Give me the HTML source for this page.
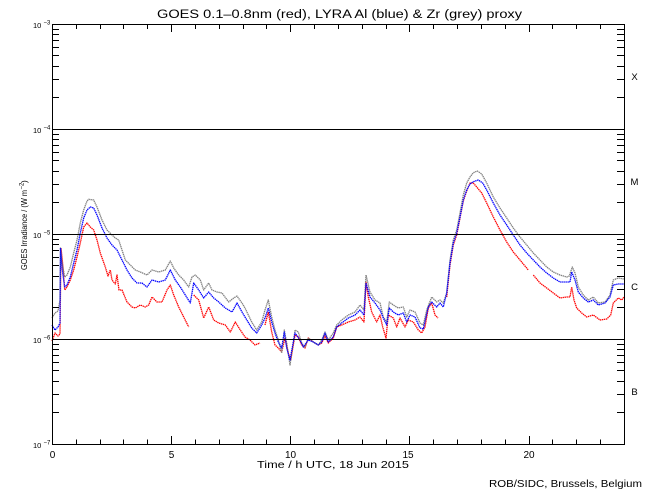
<!DOCTYPE html>
<html><head><meta charset="utf-8"><style>
html,body{margin:0;padding:0;background:#fff;}
svg{display:block;}
text{font-family:"Liberation Sans",sans-serif;fill:#000;}
</style></head><body>
<svg width="650" height="500" viewBox="0 0 650 500" xmlns="http://www.w3.org/2000/svg">
<rect width="650" height="500" fill="#fff"/>

<!-- Title -->
<text x="157" y="18" font-size="11.5" textLength="365" lengthAdjust="spacingAndGlyphs">GOES 0.1–0.8nm (red), LYRA Al (blue) &amp; Zr (grey) proxy</text>

<!-- Data series -->
<g fill="none" stroke-width="1.3" stroke-dasharray="1.4 0.6" stroke-linejoin="round">
<polyline stroke="#ff0000" points="52,341 55,333 58,336 60,334 61,248 62.5,262 64.7,290 67,287 70.3,280 73.7,270 77,257 80.3,243 83.7,227 87,223 90.3,227 93.7,230 97,240 100.3,253 105.3,267 108,276 110.3,270 112,280 115.3,284 117,275 119,290 122,290 127,302 132,307 135.3,308 140.3,305 145.3,307 148.7,305 152,297 157,302 162,302 167,290 170.3,285 173.7,295 178.7,307 183.7,317 188.7,327"/>
<polyline stroke="#ff0000" points="193.7,295 198.7,300 203.7,318 208.7,307 213.7,320 218.7,323 225.3,325 230.3,332 235.3,322 240.3,330 245,337 250,340 255,345 260,343"/>
<polyline stroke="#ff0000" points="265,325 268.3,312 271.7,332 275,345 278.3,348 281.7,352 285,338 288.3,353 290.7,360 295,335 298.3,337 301.7,345 305,348 308.3,338 313.3,342 318.3,345 321.7,343 325,336 328.3,343 333.3,338 336.7,327 341.7,325 348.3,322 355,320 360,317 364,322 366,282 368.3,297 371.7,312 376.7,322 380,315 382.7,327 386,338 388.3,315 393.3,318 396.7,327 400,318 405,327 408.3,320 413.3,322 418.3,330 421.7,333 425,327 428.3,308 431.7,303 435,315 438,318"/>
<polyline stroke="#ff0000" points="446.7,297 450,265 453.3,245 456.7,235 460,218 463.3,201 466.7,191 470,183 473.3,183 476.7,187 481.7,193 486.7,203 493.3,217 500,230 506.7,242 513.3,252 520,260 528.3,270"/>
<polyline stroke="#ff0000" points="533.3,275 540,283 546.7,288 553.3,293 560,298 566.7,297 570,297 571.7,287 574,300 576.7,308 581.7,313 586.7,317 593.3,315 600,320 606.7,319 610.7,315 613.3,303 618.3,298 621.7,300 624,297"/>

<polyline stroke="#808080" points="52,318 55,313 58,311 60,300 60.5,248 62,262 64.7,277 67,275 70.3,267 73.7,253 77,240 80.3,223 83.7,210 87,201 88.7,199.3 93.7,200 97,207 102,220 107,230 112,235 115.3,238 118.7,240 122,250 125.3,260 130.3,265 135.3,270 140.3,272 147,275 152,270 158.7,272 165.3,270 170.3,261 173.7,268 178.7,275 183.7,280 188.7,287 192,277 195.3,275 200.3,280 203.7,290 208.7,283 212,290 217,292 222,293 228.7,302 233.7,298 237,296 242,303 245,308 251.7,322 256.7,330 261.7,322 265,310 268.3,300 271.7,317 275,330 278.3,340 281.7,353 284.3,330 286.7,343 290,365 293.3,343 295,330 298.3,332 301.7,343 305,347 308.3,338 313.3,342 318.3,345 321.7,340 325,332 328.3,340 333.3,333 336.7,325 341.7,320 348.3,315 355,312 360,305 364,310 366,275 370,292 375,300 380,303 383.3,317 386.7,322 389.3,302 393.3,305 398.3,308 403.3,307 406.7,317 410,310 415,312 420,323 423.3,325 426.7,310 431.7,297 436.7,302 440,300 443.3,303 446.7,293 450,260 453.3,240 456.7,230 460,213 463.3,195 466.7,183 470,177 473.3,172.7 477.3,171 481.7,174 486.7,183 493.3,197 500,208 506.7,218 513.3,228 520,237 526.7,245 533.3,253 540,260 546.7,267 553.3,272 560,275 566.7,277 569.3,276 572.3,267 575,273 578.3,287 583.3,295 588.3,300 593.3,297 598.3,303 605,302 610,295 613.3,280 618.3,278 624,279"/>

<polyline stroke="#0000ff" points="52,325 55,330 58,327 60,323 60.5,248 62,268 64.7,287 67,285 70.3,277 73.7,263 77,250 80.3,233 83.7,218 87,210 90.3,207 93.7,208 97,215 102,228 107,238 112,245 117,250 122,260 127,270 132,278 137,283 142,283 147,287 152,280 158.7,282 165.3,280 170.3,270 175.3,280 180.3,287 185.3,295 190.3,303 193.7,283 198.7,290 203.7,298 208.7,292 213.7,298 218.7,302 225.3,308 232,312 237,303 242,312 245,317 251.7,328 256.7,333 261.7,325 265,318 268.3,308 271.7,322 275,333 278.3,342 281.7,348 284.3,332 286.7,348 290,360 295,333 300,340 303.3,347 308.3,340 313.3,342 318.3,345 321.7,342 325,333 328.3,342 333.3,337 336.7,327 341.7,323 348.3,318 355,315 360,310 364,315 366,283 370,297 375,303 380,310 383.3,318 386.7,325 389.3,308 393.3,312 398.3,315 403.3,313 406.7,322 410,315 415,317 420,328 423.3,329 428.3,307 431.7,302 436.7,307 440,303 443.3,307 446.7,293 450,263 453.3,243 456.7,233 460,217 463.3,200 466.7,190 470,184 473.3,181.7 478.3,180 482.7,183 486.7,190 493.3,203 500,215 506.7,225 513.3,235 520,245 526.7,253 533.3,260 540,267 546.7,273 553.3,278 560,282 566.7,282 570,282 571.7,272 575,280 578.3,292 583.3,298 588.3,302 593.3,300 598.3,305 605,303 610,297 613.3,285 618.3,284 624,284"/>
</g>

<!-- Axes box and decade lines -->
<g stroke="#000" stroke-width="1" fill="none">
<rect x="52.5" y="24.5" width="572" height="420"/>
<path d="M52,129.5H624M52,234.5H624M52,339.5H624"/>
<!-- left minor y ticks -->
<path d="M52,97.5h7M52,79.5h7M52,66.5h7M52,55.5h7M52,47.5h7M52,40.5h7M52,34.5h7M52,29.5h7
M52,202.5h7M52,184.5h7M52,171.5h7M52,160.5h7M52,152.5h7M52,145.5h7M52,139.5h7M52,134.5h7
M52,307.5h7M52,289.5h7M52,276.5h7M52,265.5h7M52,257.5h7M52,250.5h7M52,244.5h7M52,239.5h7
M52,412.5h7M52,394.5h7M52,381.5h7M52,370.5h7M52,362.5h7M52,355.5h7M52,349.5h7M52,344.5h7"/>
<!-- right minor y ticks -->
<path d="M624,97.5h-7M624,79.5h-7M624,66.5h-7M624,55.5h-7M624,47.5h-7M624,40.5h-7M624,34.5h-7M624,29.5h-7
M624,202.5h-7M624,184.5h-7M624,171.5h-7M624,160.5h-7M624,152.5h-7M624,145.5h-7M624,139.5h-7M624,134.5h-7
M624,307.5h-7M624,289.5h-7M624,276.5h-7M624,265.5h-7M624,257.5h-7M624,250.5h-7M624,244.5h-7M624,239.5h-7
M624,412.5h-7M624,394.5h-7M624,381.5h-7M624,370.5h-7M624,362.5h-7M624,355.5h-7M624,349.5h-7M624,344.5h-7"/>
<!-- bottom x ticks -->
<path d="M76.5,444v-4.5M100.5,444v-4.5M123.5,444v-4.5M147.5,444v-4.5M171.5,444v-8M195.5,444v-4.5M219.5,444v-4.5M243.5,444v-4.5M266.5,444v-4.5M290.5,444v-8M314.5,444v-4.5M338.5,444v-4.5M362.5,444v-4.5M386.5,444v-4.5M409.5,444v-8M433.5,444v-4.5M457.5,444v-4.5M481.5,444v-4.5M505.5,444v-4.5M529.5,444v-8M552.5,444v-4.5M576.5,444v-4.5M600.5,444v-4.5"/>
<!-- top x ticks -->
<path d="M76.5,24v5M100.5,24v5M123.5,24v5M147.5,24v5M171.5,24v8M195.5,24v5M219.5,24v5M243.5,24v5M266.5,24v5M290.5,24v8M314.5,24v5M338.5,24v5M362.5,24v5M386.5,24v5M409.5,24v8M433.5,24v5M457.5,24v5M481.5,24v5M505.5,24v5M529.5,24v8M552.5,24v5M576.5,24v5M600.5,24v5"/>
</g>

<!-- Y tick labels -->
<g font-size="7.5">
<text x="33" y="28">10</text><text x="43.5" y="24.5" font-size="6">−3</text>
<text x="33" y="133">10</text><text x="43.5" y="129.5" font-size="6">−4</text>
<text x="33" y="238">10</text><text x="43.5" y="234.5" font-size="6">−5</text>
<text x="33" y="343">10</text><text x="43.5" y="339.5" font-size="6">−6</text>
<text x="33" y="448">10</text><text x="43.5" y="444.5" font-size="6">−7</text>
</g>

<!-- Flare class labels -->
<g font-size="9.5" text-anchor="middle">
<text x="634.5" y="80">X</text>
<text x="634.5" y="185">M</text>
<text x="634.5" y="290">C</text>
<text x="634.5" y="395">B</text>
</g>

<!-- X tick labels -->
<g font-size="10" text-anchor="middle">
<text x="52.5" y="458">0</text>
<text x="171.5" y="458">5</text>
<text x="290.5" y="458">10</text>
<text x="408" y="458">15</text>
<text x="529" y="458">20</text>
</g>

<!-- X axis title -->
<text x="257" y="468" font-size="10.5" textLength="152" lengthAdjust="spacingAndGlyphs">Time / h UTC, 18 Jun 2015</text>

<!-- Y axis title -->
<g transform="translate(27,270) rotate(-90)">
<text x="0" y="0" font-size="8.5" textLength="80" lengthAdjust="spacingAndGlyphs">GOES Irradiance / (W m</text>
<text x="80.5" y="-3.5" font-size="6">−2</text>
<text x="87" y="0" font-size="8.5">)</text>
</g>

<!-- Credit -->
<text x="489" y="487" font-size="10.5" textLength="153" lengthAdjust="spacingAndGlyphs">ROB/SIDC, Brussels, Belgium</text>
</svg>
</body></html>
